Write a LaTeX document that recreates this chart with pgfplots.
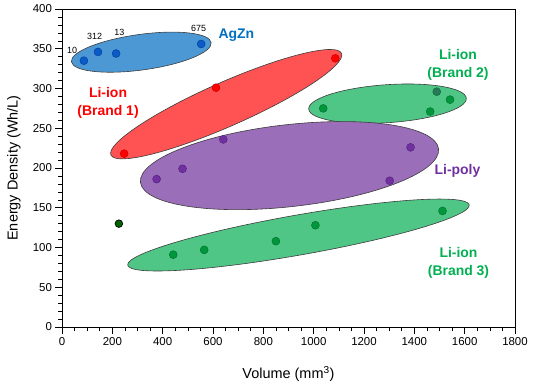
\documentclass[border=0pt]{standalone}
\usepackage{fontspec}
\setmainfont{Liberation Sans}
\usepackage{pgfplots}
\pgfplotsset{compat=1.18}
\definecolor{blueE}{RGB}{76,152,212}
\definecolor{redE}{RGB}{255,82,82}
\definecolor{greenE}{RGB}{80,198,134}
\definecolor{purpleE}{RGB}{155,110,185}
\definecolor{blueT}{RGB}{0,112,192}
\definecolor{redT}{RGB}{255,0,0}
\definecolor{greenT}{RGB}{0,176,80}
\definecolor{purpleT}{RGB}{112,48,160}
\definecolor{blueP}{RGB}{10,90,200}
\definecolor{blueD}{RGB}{0,60,150}
\definecolor{redP}{RGB}{255,0,0}
\definecolor{redD}{RGB}{190,0,0}
\definecolor{greenP}{RGB}{0,150,60}
\definecolor{greenD}{RGB}{0,110,40}
\definecolor{tealP}{RGB}{40,120,90}
\definecolor{purpleP}{RGB}{112,48,160}
\definecolor{purpleD}{RGB}{80,30,120}
\definecolor{darkG}{RGB}{0,100,0}
\definecolor{ellB}{RGB}{60,60,60}
\begin{document}
\begin{tikzpicture}
\begin{axis}[
  scale only axis, width=453bp, height=318bp,
  xmin=0, xmax=1800, ymin=0, ymax=400,
  xtick distance=200, ytick distance=50,
  minor x tick num=3, minor y tick num=4,
  tick align=outside, xtick pos=bottom, ytick pos=left,
  major tick length=6.5bp, minor tick length=4bp,
  tick style={black, line width=0.6pt},
  axis line style={line width=0.8pt},
  ticklabel style={font=\fontsize{11.5}{13}\selectfont},
  /pgf/number format/assume math mode=true,
  /pgf/number format/1000 sep={},
  xlabel={Volume (mm\textsuperscript{3})},
  ylabel={Energy Density (Wh/L)},
  label style={font=\fontsize{14.5}{17}\selectfont},
  xlabel style={at={(axis description cs:0.5,-0.148)}, anchor=center},
  ylabel style={at={(axis description cs:-0.106,0.5)}, anchor=center},
  clip=false,
]
% ellipses
\draw[ellB, line width=0.6pt, fill=blueE, rotate around={7.8:(axis cs:315,345.7)}] (axis cs:315,345.7) ellipse [x radius=70.5bp, y radius=17.8bp];
\draw[ellB, line width=0.6pt, fill=redE, rotate around={23.8:(axis cs:652.5,280.3)}] (axis cs:652.5,280.3) ellipse [x radius=126bp, y radius=22bp];
\draw[ellB, line width=0.6pt, fill=greenE, rotate around={3.9:(axis cs:1293.4,280.9)}] (axis cs:1293.4,280.9) ellipse [x radius=79bp, y radius=19bp];
\draw[ellB, line width=0.6pt, fill=purpleE, rotate around={6.4:(axis cs:904,203)}] (axis cs:904,203) ellipse [x radius=150bp, y radius=41bp];
\draw[ellB, line width=0.6pt, fill=greenE, rotate around={10:(axis cs:939.6,115.7)}] (axis cs:939.6,115.7) ellipse [x radius=173.4bp, y radius=20bp];
% points
\addplot[only marks, mark=*, mark size=4bp, mark options={fill=blueP, draw=blueD, line width=0.4pt}]
  coordinates {(87,335) (143,346) (215,344) (553,356)};
\addplot[only marks, mark=*, mark size=4bp, mark options={fill=redP, draw=redD, line width=0.4pt}]
  coordinates {(247,218) (612,301) (1086,338)};
\addplot[only marks, mark=*, mark size=4bp, mark options={fill=greenP, draw=greenD, line width=0.4pt}]
  coordinates {(1038,275) (1463,271) (1542,286)};
\addplot[only marks, mark=*, mark size=4bp, mark options={fill=tealP, draw=greenD, line width=0.4pt}]
  coordinates {(1489,296)};
\addplot[only marks, mark=*, mark size=4bp, mark options={fill=purpleP, draw=purpleD, line width=0.4pt}]
  coordinates {(376,186) (479,199) (641,236) (1302,184) (1385,226)};
\addplot[only marks, mark=*, mark size=4bp, mark options={fill=greenP, draw=greenD, line width=0.4pt}]
  coordinates {(442,91) (565,97) (850,108) (1007,128) (1512,146)};
\addplot[only marks, mark=*, mark size=3.8bp, mark options={fill=darkG, draw=black, line width=0.7pt}]
  coordinates {(226,130)};
% labels
\node[font=\fontsize{9}{10}\selectfont] at (axis cs:40,348.5) {10};
\node[font=\fontsize{9}{10}\selectfont] at (axis cs:130,365) {312};
\node[font=\fontsize{9}{10}\selectfont] at (axis cs:228,370) {13};
\node[font=\fontsize{9}{10}\selectfont] at (axis cs:543,375) {675};
\node[font=\fontsize{14}{18}\selectfont\bfseries, text=blueT] at (axis cs:693,366.7) {AgZn};
\node[font=\fontsize{14}{18}\selectfont\bfseries, text=redT, align=center] at (axis cs:183,282) {Li-ion\\(Brand 1)};
\node[font=\fontsize{14}{18}\selectfont\bfseries, text=greenT, align=center] at (axis cs:1573.5,330.2) {Li-ion\\(Brand 2)};
\node[font=\fontsize{14}{18}\selectfont\bfseries, text=purpleT] at (axis cs:1571.5,196.9) {Li-poly};
\node[font=\fontsize{14}{18}\selectfont\bfseries, text=greenT, align=center] at (axis cs:1575.5,81.1) {Li-ion\\(Brand 3)};
\end{axis}
\pgfresetboundingbox
\path ([shift={(-62bp,-59bp)}]current axis.south west) rectangle ([shift={(19bp,9bp)}]current axis.north east);
\end{tikzpicture}
\end{document}
